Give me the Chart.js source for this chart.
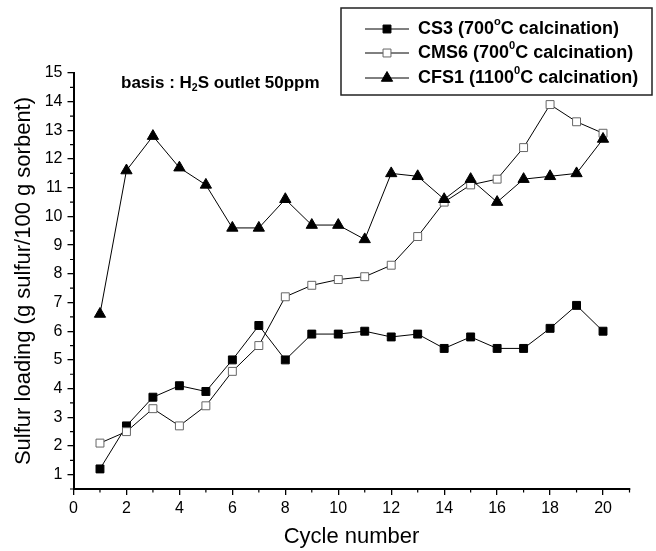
<!DOCTYPE html>
<html>
<head>
<meta charset="utf-8">
<script src="https://cdn.jsdelivr.net/npm/chart.js@4.4.1/dist/chart.umd.min.js"></script>
<style>
html,body{margin:0;padding:0;background:#fff;}
#wrap{position:relative;width:656px;height:551px;}
</style>
</head>
<body>
<div id="wrap"><canvas id="c" width="656" height="551"></canvas></div>
<script>
// ---- data ----
const cycles = [1,2,3,4,5,6,7,8,9,10,11,12,13,14,15,16,17,18,19,20];
const cs3  = [1.2,2.7,3.7,4.1,3.9,5.0,6.2,5.0,5.9,5.9,6.0,5.8,5.9,5.4,5.8,5.4,5.4,6.1,6.9,6.0];
const cms6 = [2.1,2.5,3.3,2.7,3.4,4.6,5.5,7.2,7.6,7.8,7.9,8.3,9.3,10.5,11.1,11.3,12.4,13.9,13.3,12.9];
const cfs1 = [6.6,11.6,12.8,11.7,11.1,9.6,9.6,10.6,9.7,9.7,9.2,11.5,11.4,10.6,11.3,10.5,11.3,11.4,11.5,12.7];
const xTicks = [0,2,4,6,8,10,12,14,16,18,20];
const yTicks = [1,2,3,4,5,6,7,8,9,10,11,12,13,14,15];
const xMinor = [1,3,5,7,9,11,13,15,17,19,21];
const yMinor = [0.5,1.5,2.5,3.5,4.5,5.5,6.5,7.5,8.5,9.5,10.5,11.5,12.5,13.5,14.5];
// legend labels as segments: [text, 'sup'|'sub'|'']
const legendLabels = [
  [['CS3 (700',''],['o','sup'],['C calcination)','']],
  [['CMS6 (700',''],['0','sup'],['C calcination)','']],
  [['CFS1 (1100',''],['0','sup'],['C calcination)','']]
];
const noteText = [['basis : H',''],['2','sub'],['S outlet 50ppm','']];
const xTitle = 'Cycle number';
const yTitle = 'Sulfur loading (g sulfur/100 g sorbent)';

const FONT = "'Liberation Sans', Arial, sans-serif";

function toXY(ys){ return cycles.map((x,i)=>({x:x,y:ys[i]})); }

function drawSegments(ctx, x, y, segs, size){
  ctx.textBaseline = 'middle';
  ctx.textAlign = 'left';
  let cx = x;
  for (const [t, kind] of segs){
    let s = size, dy = 0;
    if (kind==='sup'){ s = size*0.62; dy = -size*0.38; }
    if (kind==='sub'){ s = size*0.62; dy = size*0.32; }
    ctx.font = 'bold ' + s + 'px ' + FONT;
    ctx.fillText(t, cx, y+dy);
    cx += ctx.measureText(t).width;
  }
}

const extras = {
  id:'extras',
  afterDraw(chart){
    const ctx = chart.ctx;
    const xs = chart.scales.x, ys = chart.scales.y;
    ctx.save();
    // minor ticks
    ctx.strokeStyle = '#000'; ctx.lineWidth = 1.2;
    const ax = chart.chartArea;
    ctx.beginPath();
    for (const v of xMinor){ const px = xs.getPixelForValue(v); ctx.moveTo(px, ax.bottom); ctx.lineTo(px, ax.bottom+3.5); }
    for (const v of yMinor){ const py = ys.getPixelForValue(v); ctx.moveTo(ax.left, py); ctx.lineTo(ax.left-3.5, py); }
    ctx.stroke();
    // legend box
    const bx = 341, by = 8, bw = 311, bh = 87;
    ctx.lineWidth = 1.5; ctx.strokeStyle = '#222';
    ctx.strokeRect(bx, by, bw, bh);
    const rowY = [29, 53, 78];
    chart.data.datasets.forEach((ds, i)=>{
      const yy = rowY[i];
      ctx.strokeStyle = '#000'; ctx.lineWidth = 1;
      ctx.beginPath(); ctx.moveTo(365, yy); ctx.lineTo(409, yy); ctx.stroke();
      ctx.fillStyle = ds.pointBackgroundColor; ctx.strokeStyle = ds.pointBorderColor; ctx.lineWidth = ds.pointBorderWidth;
      Chart.helpers.drawPoint(ctx, {pointStyle: ds.pointStyle, radius: ds.pointRadius, borderWidth: ds.pointBorderWidth}, 387, yy);
      ctx.fillStyle = '#000';
      drawSegments(ctx, 418, yy, legendLabels[i], 18);
    });
    // annotation
    ctx.fillStyle = '#000';
    drawSegments(ctx, 121, 83, noteText, 17);
    ctx.restore();
  }
};

new Chart(document.getElementById('c'), {
  type:'line',
  data:{
    datasets:[
      {label:'CS3', data:toXY(cs3), borderColor:'#000', borderWidth:1, pointStyle:'rect', pointRadius:5.6,
       pointBackgroundColor:'#000', pointBorderColor:'#000', pointBorderWidth:1, order:2},
      {label:'CMS6', data:toXY(cms6), borderColor:'#000', borderWidth:1, pointStyle:'rect', pointRadius:5.6,
       pointBackgroundColor:'#fff', pointBorderColor:'#666', pointBorderWidth:1, order:1},
      {label:'CFS1', data:toXY(cfs1), borderColor:'#000', borderWidth:1, pointStyle:'triangle', pointRadius:6.5,
       pointBackgroundColor:'#000', pointBorderColor:'#000', pointBorderWidth:1, order:0}
    ]
  },
  options:{
    responsive:false, animation:false, devicePixelRatio:1,
    layout:{padding:{left:0, right:26.5, top:73, bottom:0}},
    plugins:{legend:{display:false}, tooltip:{enabled:false}},
    elements:{line:{tension:0}},
    scales:{
      x:{
        type:'linear', min:0, max:21,
        afterBuildTicks(s){ s.ticks = xTicks.map(v=>({value:v})); },
        afterFit(s){ s.height = 62; },
        grid:{display:true, drawOnChartArea:false, drawTicks:true, tickLength:6, color:'#000', lineWidth:1.3},
        border:{display:true, color:'#000', width:2},
        ticks:{color:'#000', font:{family:FONT, size:16}, padding:4, maxRotation:0, autoSkip:false},
        title:{display:true, text:xTitle, color:'#000', font:{family:FONT, size:22}, padding:{top:0,bottom:1}}
      },
      y:{
        type:'linear', min:0.5, max:15,
        afterBuildTicks(s){ s.ticks = yTicks.map(v=>({value:v})); },
        afterFit(s){ s.width = 73.5; },
        grid:{display:true, drawOnChartArea:false, drawTicks:true, tickLength:6, color:'#000', lineWidth:1.3},
        border:{display:true, color:'#000', width:2},
        ticks:{color:'#000', font:{family:FONT, size:16}, padding:5, autoSkip:false},
        title:{display:true, text:yTitle, color:'#000', font:{family:FONT, size:22}, padding:{top:11,bottom:0}}
      }
    }
  },
  plugins:[extras]
});
</script>
</body>
</html>
